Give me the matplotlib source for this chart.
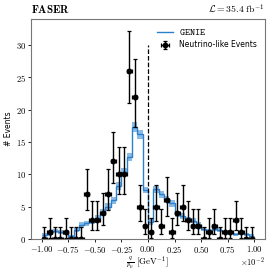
import math
import numpy as np
import matplotlib
matplotlib.use("Agg")
import matplotlib.pyplot as plt
from matplotlib.ticker import FuncFormatter, MultipleLocator

plt.rcParams['mathtext.fontset'] = 'cm'
plt.rcParams['font.family'] = ['DejaVu Sans']

# binning in q/p (GeV^-1), 40 bins between -0.01 and 0.01
edges = np.linspace(-0.01, 0.01, 41)

# observed neutrino-like events per bin
counts = [0, 1, 0, 0, 1, 0, 0, 0, 7, 3,
          3, 4, 7, 12, 10, 10, 26, 22, 5, 2,
          1, 5, 2, 6, 1, 4, 5, 3, 2, 2,
          0, 1, 2, 0, 1, 1, 3, 1, 0, 0]

# GENIE prediction and its uncertainty
genie = [0.6, 0.8, 1.2, 1.05, 0.9, 0.4, 1.4, 2.2, 2.4, 2.7,
         3.3, 4.1, 5.0, 6.0, 8.2, 10.3, 12.7, 17.3, 16.2, 7.6,
         2.6, 7.7, 6.9, 6.2, 5.5, 3.9, 3.5, 3.0, 2.8, 2.2,
         1.6, 1.2, 1.5, 1.4, 1.0, 1.0, 0.7, 0.9, 0.7, 0.5]
genie_err = [0.25, 0.3, 0.35, 0.3, 0.3, 0.2, 0.35, 0.4, 0.4, 0.45,
             0.45, 0.5, 0.5, 0.55, 0.6, 0.6, 0.65, 0.7, 0.7, 0.5,
             0.45, 0.55, 0.5, 0.5, 0.5, 0.45, 0.45, 0.4, 0.4, 0.35,
             0.3, 0.3, 0.3, 0.3, 0.25, 0.25, 0.2, 0.25, 0.2, 0.2]


def pois_cdf(k, mu):
    return sum(math.exp(-mu) * mu**i / math.factorial(i) for i in range(k + 1))


def garwood(n, a=0.15865):
    # 68% central Poisson interval, solved by bisection
    if n == 0:
        lo = 0.0
    else:
        l, h = 0.0, n
        for _ in range(60):
            m = 0.5 * (l + h)
            if 1 - pois_cdf(n - 1, m) < a:
                l = m
            else:
                h = m
        lo = 0.5 * (l + h)
    l, h = n, n + 10 * math.sqrt(n + 1) + 5
    for _ in range(60):
        m = 0.5 * (l + h)
        if pois_cdf(n, m) > a:
            l = m
        else:
            h = m
    return lo, 0.5 * (l + h)


counts = np.array(counts)
genie = np.array(genie)
genie_err = np.array(genie_err)
centres = 0.5 * (edges[1:] + edges[:-1])
halfw = 0.5 * (edges[1] - edges[0])
ints = np.array([garwood(n) for n in counts])
yerr = np.vstack([counts - ints[:, 0], ints[:, 1] - counts])

fig = plt.figure(figsize=(2.74, 2.74), dpi=100)
ax = fig.add_axes([0.113, 0.128, 0.854, 0.803])

ax.stairs(genie + genie_err, edges, baseline=genie - genie_err, fill=True,
          color='#3a8fd6', alpha=0.6, lw=0)
ax.stairs(genie, edges, baseline=None, color='#2a80cc', lw=1.0,
          label=r'$\mathtt{GENIE}$')
ax.errorbar(centres, counts, xerr=halfw, yerr=yerr, fmt='o', color='k',
            ms=3.2, lw=1.0, capsize=1.5, capthick=0.9,
            label='Neutrino-like Events')
ax.vlines(0, 0, 30, colors='k', linestyles='--', lw=0.9)

ax.set_xlim(-0.011, 0.011)
ax.set_ylim(0, 34)
ax.xaxis.set_major_locator(MultipleLocator(0.0025))
ax.yaxis.set_major_locator(MultipleLocator(5))
ax.xaxis.set_major_formatter(FuncFormatter(lambda v, p: r'$%.2f$' % (v * 100)))
ax.yaxis.set_major_formatter(FuncFormatter(lambda v, p: r'$%d$' % round(v)))
ax.tick_params(labelsize=6.2, length=2, width=0.6, pad=1.5)
ax.text(1.0, -0.078, r'$\times10^{-2}$', transform=ax.transAxes,
        ha='right', va='top', fontsize=6.2)
for s in ax.spines.values():
    s.set_linewidth(0.8)
    s.set_color('#777777')

ax.set_xlabel(r'$\frac{q}{p_\mu}\ [\mathrm{GeV}^{-1}]$', fontsize=6.5, labelpad=0)
ax.set_ylabel('# Events', fontsize=5.5, labelpad=2)
ax.set_title(r'$\mathbf{FASER}$', loc='left', fontsize=8, pad=4)
ax.set_title(r'$\mathcal{L} = 35.4\ \mathrm{fb}^{-1}$', loc='right', fontsize=7, pad=4)

leg = ax.legend(loc='upper right', frameon=False, fontsize=5.5, handlelength=2.2,
                borderaxespad=0.6)
leg.get_texts()[0].set_fontsize(7)

fig.savefig('out.png', dpi=100)
